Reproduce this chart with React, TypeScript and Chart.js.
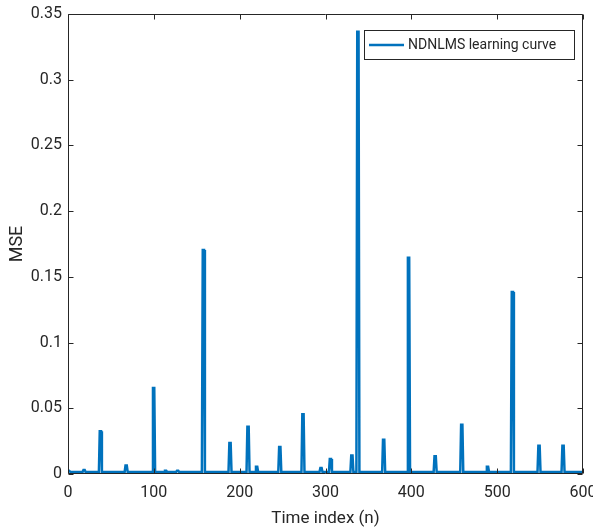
import React, { useEffect, useRef } from "react";
import { Chart, registerables } from "chart.js";

Chart.register(...registerables);

// Spike positions (time index) and peak MSE values
const spikeX = [18, 37, 67, 99, 113, 127, 157, 188, 209, 219, 246, 273, 294, 305, 330, 337, 367, 396, 427, 458, 488, 517, 548, 576];
const spikeY = [0.003, 0.0325, 0.0065, 0.0655, 0.0025, 0.0025, 0.1705, 0.0235, 0.036, 0.0055, 0.0205, 0.0455, 0.0045, 0.0115, 0.014, 0.3365, 0.026, 0.1645, 0.0135, 0.0375, 0.0055, 0.1385, 0.0215, 0.0215];
const baseline = 0.0015;
const startValue = 0.003;
const xMax = 600;
const xTicks = [0, 100, 200, 300, 400, 500, 600];
const yTicks = [0, 0.05, 0.1, 0.15, 0.2, 0.25, 0.3, 0.35];
const seriesLabel = "NDNLMS learning curve";

const LINE = "#0072BD";
const AXIS = "#262626";
const FONT = "Roboto";

function buildPoints() {
  const pts: { x: number; y: number }[] = [{ x: 0, y: startValue }, { x: 3, y: baseline }];
  spikeX.forEach((sx, i) => {
    pts.push({ x: sx - 1, y: baseline });
    pts.push({ x: sx, y: spikeY[i] });
    pts.push({ x: sx + 1.5, y: spikeY[i] });
    pts.push({ x: sx + 2.5, y: baseline });
  });
  pts.push({ x: xMax, y: baseline });
  return pts;
}

const boxPlugin = {
  id: "matlabBox",
  afterDatasetsDraw(chart: any) {
    const { ctx, chartArea: a, scales } = chart;
    ctx.save();
    ctx.strokeStyle = AXIS;
    ctx.lineWidth = 1;
    const L = Math.round(a.left) + 0.5;
    const R = Math.round(a.right) - 0.5;
    const T = Math.round(a.top) + 0.5;
    const B = Math.round(a.bottom) - 0.5;
    ctx.beginPath();
    ctx.rect(L, T, R - L, B - T);
    ctx.stroke();
    const tl = 5;
    ctx.beginPath();
    xTicks.forEach((v) => {
      const px = Math.round(scales.x.getPixelForValue(v)) + 0.5;
      ctx.moveTo(px, B);
      ctx.lineTo(px, B - tl);
      ctx.moveTo(px, T);
      ctx.lineTo(px, T + tl);
    });
    yTicks.forEach((v) => {
      const py = Math.round(scales.y.getPixelForValue(v)) + 0.5;
      ctx.moveTo(L, py);
      ctx.lineTo(L + tl, py);
      ctx.moveTo(R, py);
      ctx.lineTo(R - tl, py);
    });
    ctx.stroke();

    // legend box
    const lx = 364.5, ly = 30.5, lw = 210, lh = 29;
    ctx.fillStyle = "#ffffff";
    ctx.fillRect(lx, ly, lw, lh);
    ctx.strokeStyle = "#262626";
    ctx.strokeRect(lx, ly, lw, lh);
    ctx.strokeStyle = LINE;
    ctx.lineWidth = 2.5;
    ctx.beginPath();
    ctx.moveTo(369, ly + lh / 2);
    ctx.lineTo(404, ly + lh / 2);
    ctx.stroke();
    ctx.fillStyle = AXIS;
    ctx.font = `14px ${FONT}`;
    ctx.textBaseline = "middle";
    ctx.textAlign = "left";
    ctx.fillText(seriesLabel, 408, ly + lh / 2 + 0.5);
    ctx.restore();
  },
};

export default function App() {
  const ref = useRef<HTMLCanvasElement>(null);
  useEffect(() => {
    document.body.style.margin = "0";
    const chart = new Chart(ref.current!, {
      type: "line",
      data: {
        datasets: [
          {
            label: seriesLabel,
            data: buildPoints(),
            borderColor: LINE,
            borderWidth: 2.5,
            pointRadius: 0,
            tension: 0,
            fill: false,
          },
        ],
      },
      options: {
        animation: false,
        responsive: false,
        maintainAspectRatio: false,
        layout: { padding: { top: 14, right: 10, left: 0, bottom: 0 } },
        plugins: { legend: { display: false }, tooltip: { enabled: false } },
        scales: {
          x: {
            type: "linear",
            min: 0,
            max: xMax,
            afterFit: (s: any) => { s.height = 58; s.paddingLeft = 0; s.paddingRight = 0; },
            afterBuildTicks: (s: any) => { s.ticks = xTicks.map((v) => ({ value: v })); },
            grid: { display: false, drawTicks: false },
            border: { display: false },
            ticks: { color: AXIS, font: { family: FONT, size: 16 }, padding: 9, maxRotation: 0 },
            title: { display: true, text: "Time index (n)", color: AXIS, font: { family: FONT, size: 17 }, padding: { top: 0, bottom: 3 } },
          },
          y: {
            type: "linear",
            min: 0,
            max: 0.35,
            afterFit: (s: any) => { s.width = 68; s.paddingTop = 0; s.paddingBottom = 0; },
            afterBuildTicks: (s: any) => { s.ticks = yTicks.map((v) => ({ value: v })); },
            grid: { display: false, drawTicks: false },
            border: { display: false },
            ticks: {
              color: AXIS,
              font: { family: FONT, size: 16 },
              padding: 6,
              callback: (v: any) => String(+Number(v).toFixed(2)),
            },
            title: { display: true, text: "MSE", color: AXIS, font: { family: FONT, size: 18 }, padding: { top: 7, bottom: 0 } },
          },
        },
      },
      plugins: [boxPlugin],
    });
    return () => chart.destroy();
  }, []);
  return (
    <div style={{ width: 593, height: 532 }}>
      <canvas ref={ref} width={593} height={532} style={{ display: "block" }} />
    </div>
  );
}
